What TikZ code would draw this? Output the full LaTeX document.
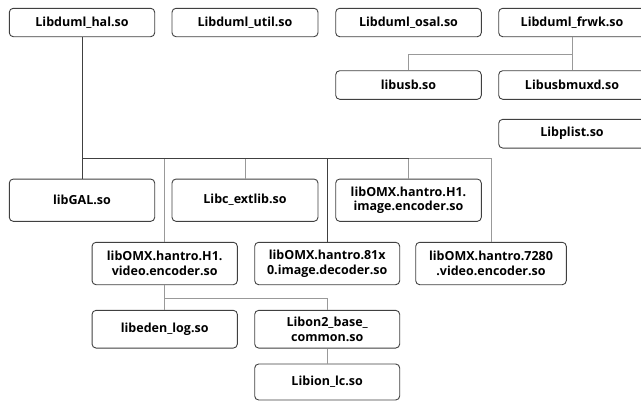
\documentclass[tikz,border=0pt]{standalone}
\usepackage{fontspec}
\setmainfont{Open Sans}
\begin{document}
\begin{tikzpicture}[x=1pt,y=-1pt,
  box/.style={draw=black!75, line width=0.9pt, rounded corners=4pt, fill=white,
    align=center, inner sep=0pt, font=\fontsize{12.5}{14.7}\selectfont\bfseries, text=black},
  dk/.style={draw=black!75, line width=0.8pt},
  lt/.style={draw=black!40, line width=0.8pt}]
\useasboundingbox (0,0) rectangle (641,402);
% row 1
\node[box, minimum width=145.4pt, minimum height=28.4pt] (hal) at (82,22.5) {Libduml\_hal.so};
\node[box, minimum width=146pt, minimum height=28.4pt] (util) at (245,22.5) {Libduml\_util.so};
\node[box, minimum width=145.6pt, minimum height=28.4pt] (osal) at (408.5,22.5) {Libduml\_osal.so};
\node[box, minimum width=146.6pt, minimum height=28.4pt] (frwk) at (572,22.5) {Libduml\_frwk.so};
\node[box, minimum width=145.6pt, minimum height=28.6pt] (libusb) at (408.5,85) {libusb.so};
\node[box, minimum width=146.6pt, minimum height=28.6pt] (usbmuxd) at (572,85) {Libusbmuxd.so};
\node[box, minimum width=146.6pt, minimum height=28.7pt] (plist) at (572,133.7) {Libplist.so};
% row 2
\node[box, minimum width=145.4pt, minimum height=42.3pt] (gal) at (82,200.2) {libGAL.so};
\node[box, minimum width=146pt, minimum height=42.3pt] (libc) at (245,200.2) {Libc\_extlib.so};
\node[box, minimum width=145.6pt, minimum height=42.3pt] (imgenc) at (408.5,200.2) {libOMX.hantro.H1.\\image.encoder.so};
% row 3
\node[box, minimum width=145.3pt, minimum height=42.4pt] (videnc) at (164.7,263.5) {libOMX.hantro.H1.\\video.encoder.so};
\node[box, minimum width=145pt, minimum height=42.4pt] (dec) at (327.2,263.5) {libOMX.hantro.81x\\0.image.decoder.so};
\node[box, minimum width=150.6pt, minimum height=42.4pt] (enc) at (491,263.5) {libOMX.hantro.7280\\.video.encoder.so};
% row 4
\node[box, minimum width=145.3pt, minimum height=37.7pt] (eden) at (164.7,329.2) {libeden\_log.so};
\node[box, minimum width=145pt, minimum height=37.7pt] (libon) at (327.2,329.2) {Libon2\_base\_\\common.so};
\node[box, minimum width=145pt, minimum height=36pt] (libion) at (327.2,382) {Libion\_lc.so};
% junctions
\coordinate (bus) at (0,158.3);
\coordinate (fj) at (572,54.3);
\coordinate (vj) at (164.7,298);
% connectors
\draw[lt] (frwk.south) -- (usbmuxd.north);
\draw[lt] (fj) -| (libusb.north);
\draw[lt] (videnc.north) -- (videnc.north |- bus);
\draw[lt] (libc.north) -- (libc.north |- bus);
\draw[lt] (imgenc.north) -- (imgenc.north |- bus);
\draw[lt] (enc.north) -- (enc.north |- bus);
\draw[lt] (imgenc.north |- bus) -- (enc.north |- bus);
\draw[dk] (hal.south) -- (hal.south |- bus);
\draw[dk] (gal.north) -- (gal.north |- bus);
\draw[dk] (dec.north) -- (dec.north |- bus);
\draw[dk] (hal.south |- bus) -- (imgenc.north |- bus);
\draw[lt] (videnc.south) -- (eden.north);
\draw[lt] (vj) -| (libon.north);
\draw[lt] (libon.south) -- (libion.north);
\end{tikzpicture}
\end{document}
